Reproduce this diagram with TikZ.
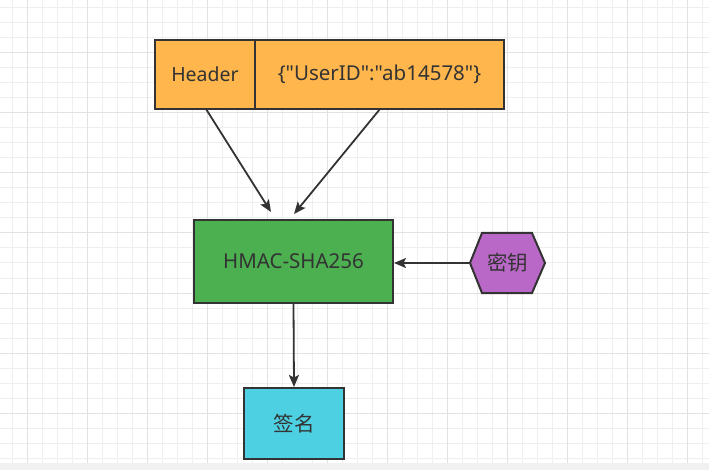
\documentclass[tikz,border=0pt]{standalone}
\usepackage{fontspec}
\setmainfont{Noto Sans}[Ligatures=TeXOff]
\newfontfamily\cjk{Noto Sans CJK SC}
\usetikzlibrary{arrows.meta}
\definecolor{ink}{HTML}{333333}
\definecolor{orangef}{HTML}{FFB74D}
\definecolor{greenf}{HTML}{4CAF50}
\definecolor{purplef}{HTML}{BA68C8}
\definecolor{cyanf}{HTML}{4DD0E1}
\definecolor{gridminor}{HTML}{EFEFEF}
\definecolor{gridmajor}{HTML}{E2E2E2}
\definecolor{strip}{HTML}{F1F1F1}
\tikzset{
  box/.style={draw=ink, line width=2pt, inner sep=0pt, text=ink, font=\fontsize{20.5}{24}\selectfont},
  conn/.style={draw=ink, line width=1.8pt, -{Stealth[length=12pt,width=10pt,inset=2.5pt]}},
}
\begin{document}
\begin{tikzpicture}[x=1pt,y=-1pt]
\useasboundingbox (0,0) rectangle (709,470);
\fill[white] (0,0) rectangle (709,470);
% grid
\foreach \x in {12,27,...,709} \draw[gridminor, line width=1pt] (\x,0) -- (\x,463);
\foreach \y in {8,23,...,463} \draw[gridminor, line width=1pt] (0,\y) -- (709,\y);
\foreach \x in {27,87,...,709} \draw[gridmajor, line width=1pt] (\x,0) -- (\x,463);
\foreach \y in {53,113,...,463} \draw[gridmajor, line width=1pt] (0,\y) -- (709,\y);
\fill[strip] (0,463) rectangle (709,470);
% nodes
\node[box, fill=orangef, minimum width=100pt, minimum height=69pt, font=\fontsize{19.5}{24}\selectfont] (hdr) at (205,74.5) {Header};
\node[box, fill=orangef, minimum width=249pt, minimum height=69pt] (pay) at (379.5,74.5) {\{"UserID":"ab14578"\}};
\node[box, fill=greenf, minimum width=199pt, minimum height=83pt] (hmac) at (293.5,261.5) {HMAC-SHA256};
\node[box, fill=cyanf, minimum width=100pt, minimum height=71pt] (sig) at (294,423.5) {\cjk 签名};
\draw[ink, line width=2pt, fill=purplef] (470,263) -- (482,233) -- (532,233) -- (545,263) -- (532,293) -- (482,293) -- cycle;
\node[text=ink, font=\fontsize{20.5}{24}\selectfont\cjk] (key) at (507.5,263) {密钥};
\coordinate (keyL) at (470,263);
\coordinate (tipA) at (271,212);
\coordinate (tipB) at (294,214);
\coordinate (hdrB) at (206,109);
\coordinate (payB) at (380,109);
% connectors
\draw[conn] (hdrB) -- (tipA);
\draw[conn] (payB) -- (tipB);
\draw[conn] (keyL) -- (keyL -| hmac.east);
\draw[conn] (hmac.south) -- (sig.north);
\end{tikzpicture}
\end{document}
